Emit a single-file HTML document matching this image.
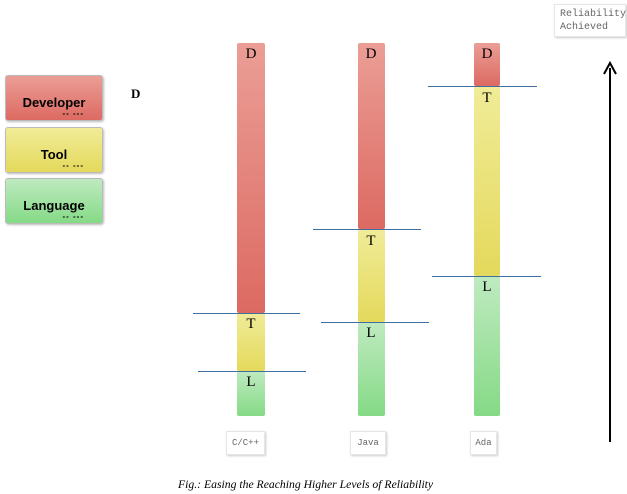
<!DOCTYPE html>
<html><head><style>
body{margin:0;width:627px;height:494px;background:#fff;position:relative;overflow:hidden;font-family:"Liberation Serif",serif}
.a{position:absolute}
.bar{position:absolute;border-radius:2px}
.r{background:linear-gradient(#eb9e96,#dc6a62)}
.y{background:linear-gradient(#f0ec98,#e4d95c)}
.g{background:linear-gradient(#bfeac0,#85da86)}
.ln{position:absolute;height:1px;background:#3f6fa0}
.lt{position:absolute;font-size:15px;width:30px;text-align:center}
.leg{position:absolute;left:5px;width:96px;height:44px;border:1px solid #bbb;border-radius:3px;font:bold 13px "Liberation Sans",sans-serif;text-align:center;box-shadow:1px 1px 2px #bbb}
.leg span{position:absolute;top:19px;left:0;right:0}
.leg i{position:absolute;right:18px;bottom:2px;font-size:8px;font-style:normal;letter-spacing:1px}
.lab{position:absolute;top:431px;height:22px;border:1px solid #e6e6e6;box-shadow:1px 1px 2px #ccc;font:9px "Liberation Mono",monospace;color:#666;line-height:22px;text-align:center}
</style></head><body>
<div class="leg r" style="top:75px"><span>Developer</span><i>-- ---</i></div>
<div class="leg y" style="top:127px"><span>Tool</span><i>-- ---</i></div>
<div class="leg g" style="top:178px"><span>Language</span><i>-- ---</i></div>
<div class="a" style="left:131px;top:86px;font-weight:bold;font-size:13px">D</div>

<div class="bar r" style="left:237px;top:43px;width:28px;height:270px"></div>
<div class="bar y" style="left:237px;top:313px;width:28px;height:58px"></div>
<div class="bar g" style="left:237px;top:371px;width:28px;height:45px"></div>
<div class="bar r" style="left:358px;top:43px;width:27px;height:186px"></div>
<div class="bar y" style="left:358px;top:229px;width:27px;height:93px"></div>
<div class="bar g" style="left:358px;top:322px;width:27px;height:94px"></div>
<div class="bar r" style="left:474px;top:43px;width:26px;height:43px"></div>
<div class="bar y" style="left:474px;top:86px;width:26px;height:190px"></div>
<div class="bar g" style="left:474px;top:276px;width:26px;height:140px"></div>

<div class="ln" style="left:193px;top:313px;width:107px"></div>
<div class="ln" style="left:198px;top:371px;width:108px"></div>
<div class="ln" style="left:313px;top:229px;width:108px"></div>
<div class="ln" style="left:321px;top:322px;width:108px"></div>
<div class="ln" style="left:428px;top:86px;width:109px"></div>
<div class="ln" style="left:432px;top:276px;width:109px"></div>

<div class="lt" style="left:236px;top:46px">D</div>
<div class="lt" style="left:236px;top:316px">T</div>
<div class="lt" style="left:236px;top:374px">L</div>
<div class="lt" style="left:356px;top:46px">D</div>
<div class="lt" style="left:356px;top:233px">T</div>
<div class="lt" style="left:356px;top:325px">L</div>
<div class="lt" style="left:472px;top:46px">D</div>
<div class="lt" style="left:472px;top:90px">T</div>
<div class="lt" style="left:472px;top:279px">L</div>

<div class="lab" style="left:226px;width:37px">C/C++</div>
<div class="lab" style="left:350px;width:34px">Java</div>
<div class="lab" style="left:470px;width:25px">Ada</div>

<div class="a" style="left:554px;top:4px;width:72px;height:33px;border:1px solid #e6e6e6;box-shadow:1px 1px 2px #ccc;font:10px/13px 'Liberation Mono',monospace;color:#666;padding:3px 0 0 5px;box-sizing:border-box">Reliability<br>Achieved</div>
<svg class="a" style="left:600px;top:60px" width="20" height="384"><line x1="10" y1="382" x2="10" y2="8" stroke="#000" stroke-width="2"/><path d="M4 14 L10 3 L16 14" fill="none" stroke="#000" stroke-width="2"/></svg>

<div class="a" style="left:178px;top:478px;font-style:italic;font-size:11.7px">Fig.: Easing the Reaching Higher Levels of Reliability</div>
</body></html>
